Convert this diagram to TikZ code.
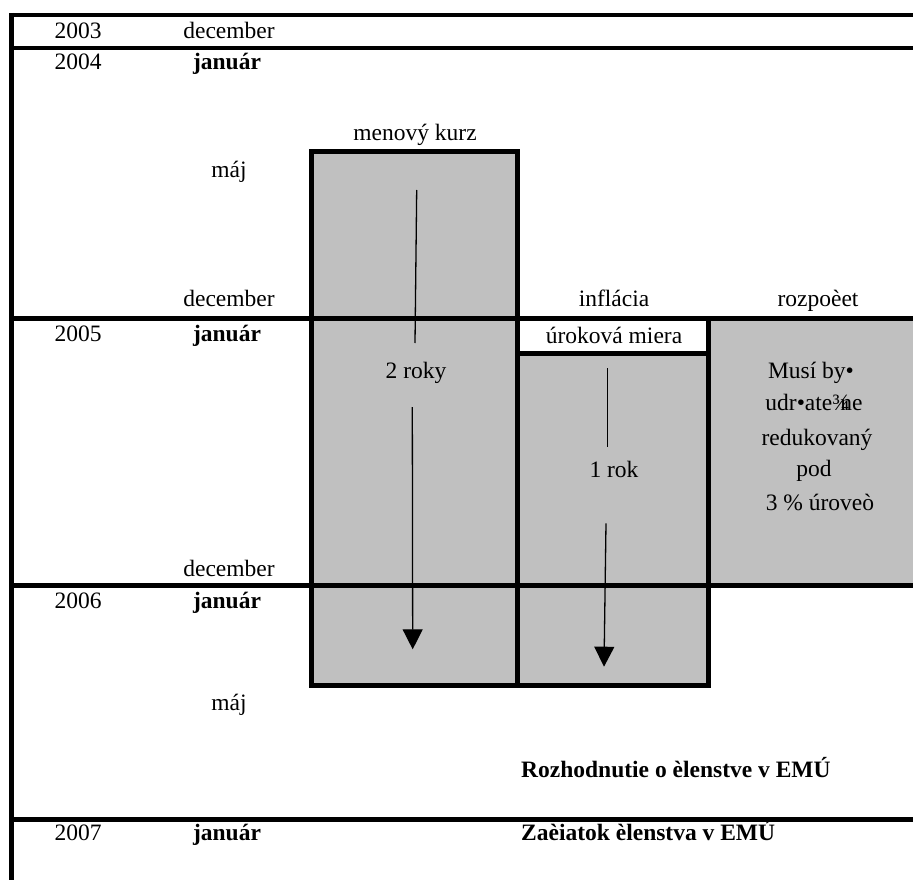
\documentclass[tikz,border=0pt]{standalone}
\usepackage{fontspec}
\setmainfont{Liberation Serif}
\newfontfamily\tnr{Liberation Serif}
\usetikzlibrary{arrows.meta}
\definecolor{boxgrey}{HTML}{C0C0C0}
\begin{document}
\begin{tikzpicture}[x=1pt,y=-1pt,
  txt/.style={font=\tnr\fontsize{23.5}{28}\selectfont, inner sep=0pt, anchor=base},
  btxt/.style={font=\tnr\fontsize{23.5}{28}\selectfont\bfseries, inner sep=0pt, anchor=base},
  rulel/.style={line width=4.5pt},
  frame/.style={line width=5pt},
  flow/.style={line width=1.3pt},
  flowtip/.style={line width=1.3pt, -{Triangle[width=20pt,length=20pt]}},
]
\useasboundingbox (0,0) rectangle (913,880);
\clip (0,0) rectangle (913,880);
% grey fills
\fill[boxgrey] (311,151.5) rectangle (517,685.5);
\fill[boxgrey] (517,353) rectangle (708,685.5);
\fill[boxgrey] (708,318) rectangle (925,585.5);
% box frames
\draw[frame] (311,151.5) rectangle (517,685.5);
\draw[frame] (517,318) -- (517,685.5) -- (708,685.5) -- (708,318);
\draw[frame] (517,353) -- (708,353);
% timeline rules
\draw[rulel] (9,15) -- (925,15);
\draw[rulel] (11.3,13) -- (11.3,885);
\draw[rulel] (9,48) -- (925,48);
\draw[frame] (9,318) -- (925,318);
\draw[frame] (9,585.5) -- (925,585.5);
\draw[frame] (9,819.5) -- (925,819.5);
% row labels
\node[txt] (y2003) at (78,39) {2003};
\node[txt] (m2003) at (229,39) {december};
\node[txt] (y2004) at (78,70) {2004};
\node[btxt] (j2004) at (227,70) {január};
\node[txt] (maj2004) at (229,177) {máj};
\node[txt] (d2004) at (229,306) {december};
\node[txt] (y2005) at (78,341) {2005};
\node[btxt] (j2005) at (227,341) {január};
\node[txt] (d2005) at (229,576) {december};
\node[txt] (y2006) at (78,608) {2006};
\node[btxt] (j2006) at (227,608) {január};
\node[txt] (maj2006) at (229,710) {máj};
\node[txt] (y2007) at (78,840) {2007};
\node[btxt] (j2007) at (227,840) {január};
% column headings
\node[txt] (kurz) at (415,141) {menový kurz};
\node[txt] (infl) at (614,306.5) {inflácia};
\node[txt] (rozp) at (818,306.5) {rozpoèet};
\node[txt] (urok) at (614,343) {úroková miera};
% durations
\node[txt] (dva) at (416,378) {2 roky};
\node[txt] (jeden) at (614,477) {1 rok};
% budget text
\node[txt] (b1) at (811,378) {Musí by•};
\node[txt] (b2) at (814,410.7) {udr•ate\rlap{¾}\kern8pt ne};
\node[txt] (b3) at (817,445) {redukovaný};
\node[txt] (b4) at (814,476.7) {pod};
\node[txt] (b5) at (820,510) {3 \% úroveò};
% decisions
\node[btxt, anchor=base west] (rozh) at (521,777) {Rozhodnutie o èlenstve v EMÚ};
\node[btxt, anchor=base west] (zac) at (521,840) {Zaèiatok èlenstva v EMÚ};
% arrows
\coordinate (a1s) at (416.7,190);
\coordinate (a1m) at (415,343);
\coordinate (a1n) at (412.3,407);
\coordinate (a1e) at (412.7,649.3);
\draw[flow] (a1s) -- (a1m);
\draw[flowtip] (a1n) -- (a1e);
\coordinate (a2s) at (607.3,368.3);
\coordinate (a2m) at (607.3,446.7);
\coordinate (a2n) at (606,523.3);
\coordinate (a2e) at (604,666.7);
\draw[flow] (a2s) -- (a2m);
\draw[flowtip] (a2n) -- (a2e);
\end{tikzpicture}
\end{document}
